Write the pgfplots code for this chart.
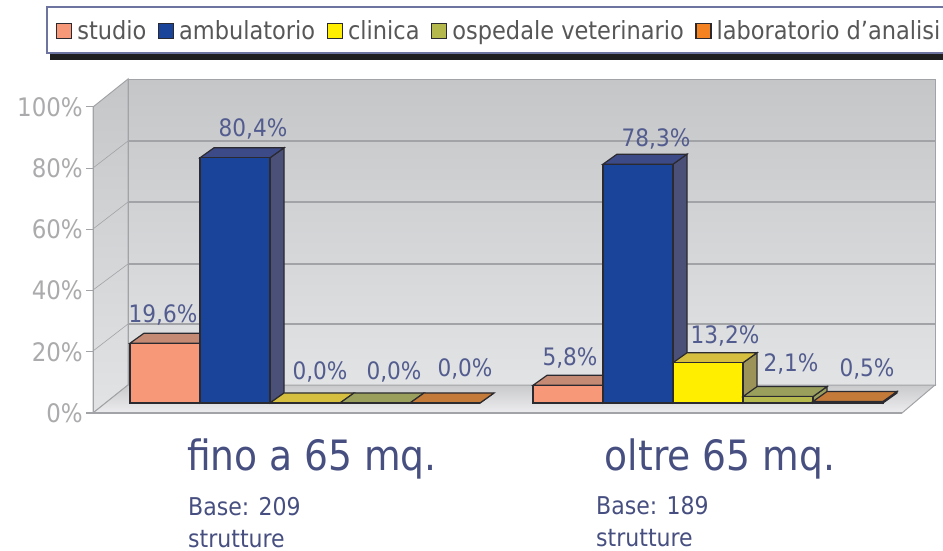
\documentclass[border=0pt]{standalone}
\usepackage{pgfplots}
\pgfplotsset{compat=1.18}
\usepackage{fontspec}
\setmainfont{DejaVu Sans Condensed}
\definecolor{txtblue}{HTML}{464F80}
\definecolor{lblblue}{HTML}{525C8E}
\definecolor{ticktxt}{HTML}{ABABAD}
\definecolor{gridc}{HTML}{A2A3A6}
\definecolor{edge}{HTML}{2A2A30}
\definecolor{wallT}{HTML}{C5C6C8}
\definecolor{wallB}{HTML}{E2E3E5}
\definecolor{floorT}{HTML}{C9CACC}
\definecolor{floorB}{HTML}{EDEDEF}
\definecolor{stF}{HTML}{F79878}\definecolor{stT}{HTML}{C58A73}\definecolor{stS}{HTML}{A0705C}
\definecolor{amF}{HTML}{1A4499}\definecolor{amT}{HTML}{3D4A88}\definecolor{amS}{HTML}{4B5078}
\definecolor{clF}{HTML}{FFEE00}\definecolor{clT}{HTML}{D6BF3E}\definecolor{clS}{HTML}{9C9358}
\definecolor{osF}{HTML}{B5B84C}\definecolor{osT}{HTML}{9AA05C}\definecolor{osS}{HTML}{9AA05C}
\definecolor{laF}{HTML}{F58220}\definecolor{laT}{HTML}{C47A38}\definecolor{laS}{HTML}{A0662E}
\newcommand{\barfaces}[4]{%
  \pgfmathsetmacro\xb{#1+14}\pgfmathsetmacro\xc{#1+70}\pgfmathsetmacro\xd{#1+84}\pgfmathsetmacro\vb{#2+3.28}%
  \addplot[forget plot,fill=#4,draw=edge,line width=1.2pt] coordinates {(\xc,0)(\xd,3.28)(\xd,\vb)(\xc,#2)} --cycle;
  \addplot[forget plot,fill=#3,draw=edge,line width=1.2pt] coordinates {(#1,#2)(\xb,\vb)(\xd,\vb)(\xc,#2)} --cycle;
}
\pgfplotsset{facebar/.style={ybar,bar width=70pt,bar shift=0pt,draw=edge,line width=1.3pt}}
\begin{document}
\begin{tikzpicture}[x=1pt,y=1pt]
\path[use as bounding box] (0,0) rectangle (943,550);
% --- walls, floor, legend frame (pixel coordinates)
\begin{axis}[at={(0,0)},anchor=south west,scale only axis,width=943pt,height=550pt,
  xmin=0,xmax=943,ymin=0,ymax=550,y dir=reverse,hide axis,clip=false]
\addplot[draw=none,fill=black!88] coordinates {(50,53)(960,53)(960,60)(50,60)} --cycle;
\addplot[draw=lblblue!85,line width=1.5pt,fill=white] coordinates {(47,7)(960,7)(960,53)(47,53)} --cycle;
\addplot[draw=gridc,line width=1pt,top color=wallT,bottom color=wallB] coordinates {(93,107)(128,79)(128,385)(93,413)} --cycle;
\addplot[draw=gridc,line width=1pt,top color=wallT,bottom color=wallB] coordinates {(128,79)(935,79)(935,385)(128,385)} --cycle;
\addplot[draw=gridc,line width=1pt,top color=floorT,bottom color=floorB] coordinates {(128,385)(935,385)(902,413)(93,413)} --cycle;
\addplot[gridc,line width=1.2pt] coordinates {(128,141)(935,141)};
\addplot[gridc,line width=1.2pt] coordinates {(128,202)(935,202)};
\addplot[gridc,line width=1.2pt] coordinates {(128,264)(935,264)};
\addplot[gridc,line width=1.2pt] coordinates {(128,324)(935,324)};
\addplot[gridc,line width=.6pt] coordinates {(93,168)(128,141)};
\addplot[gridc,line width=.6pt] coordinates {(93,229)(128,202)};
\addplot[gridc,line width=.6pt] coordinates {(93,290)(128,264)};
\addplot[gridc,line width=.6pt] coordinates {(93,351)(128,324)};
\addplot[gridc,line width=2pt] coordinates {(86,413)(902,413)};
\end{axis}
% --- value axis with its ticks
\begin{axis}[at={(93pt,137pt)},anchor=south west,scale only axis,width=809pt,height=306pt,
  xmin=0,xmax=1,ymin=0,ymax=100,axis lines=left,axis line style={-,draw=gridc,line width=1pt},
  xtick=\empty,ytick={0,20,40,60,80,100},tick style={draw=gridc,line width=1pt},
  tick align=outside,major tick length=7pt,
  yticklabel={\pgfmathprintnumber{\tick}\%},
  /pgf/number format/assume math mode=true,
  yticklabel style={font=\fontsize{25.5}{25.5}\selectfont,text=ticktxt,inner sep=0pt,xshift=-3pt}]
\addplot[draw=none,forget plot] coordinates {(0,0)(1,100)};
\end{axis}
% --- bars
\begin{axis}[at={(0,0)},anchor=south west,scale only axis,width=943pt,height=550pt,
  xmin=0,xmax=943,ymin=-48.197,ymax=132.131,clip=false,
  axis line style={draw=none},ytick=\empty,tick style={draw=none},
  xtick={312,720},xticklabels={fino a 65 mq.,oltre 65 mq.},xtick pos=bottom,
  xticklabel style={font=\fontsize{41.8}{41.8}\selectfont,text=txtblue,anchor=center,yshift=91pt},
  legend columns=5,
  legend cell align=left,
  legend style={at={(56pt,519pt)},anchor=west,draw=none,fill=none,inner sep=0pt,outer sep=0pt,
    font=\fontsize{25}{25}\selectfont,text=black!66,
    /tikz/every even column/.append style={column sep=11.5pt},
    /tikz/every odd column/.append style={column sep=5pt},
    nodes={inner sep=0pt}},
  legend image code/.code={\draw[#1,line width=1.3pt,draw=edge] (0pt,-7.5pt) rectangle (15pt,7.5pt);}]
\barfaces{130}{19.6}{stT}{stS}
\barfaces{533}{5.8}{stT}{stS}
\addplot[facebar,fill=stF] coordinates {(165,19.6)(568,5.8)};
\addlegendentry{studio}
\barfaces{200}{80.4}{amT}{amS}
\barfaces{603}{78.3}{amT}{amS}
\addplot[facebar,fill=amF] coordinates {(235,80.4)(638,78.3)};
\addlegendentry{ambulatorio}
\barfaces{270}{0}{clT}{clS}
\barfaces{673}{13.2}{clT}{clS}
\addplot[facebar,fill=clF] coordinates {(305,0)(708,13.2)};
\addlegendentry{clinica}
\barfaces{340}{0}{osT}{osS}
\barfaces{743}{2.1}{osT}{osS}
\addplot[facebar,fill=osF] coordinates {(375,0)(778,2.1)};
\addlegendentry{ospedale veterinario}
\barfaces{410}{0}{laT}{laS}
\barfaces{813}{0.5}{laT}{laS}
\addplot[facebar,fill=laF] coordinates {(445,0)(848,0.5)};
\addlegendentry{laboratorio d'analisi}
% value labels
\addplot[forget plot,draw=none,mark=none,point meta=y,
  visualization depends on={\thisrow{dx}\as\dx},
  visualization depends on={\thisrow{dy}\as\dy},
  nodes near coords={\pgfmathprintnumber[fixed,fixed zerofill,precision=1,use comma,assume math mode=true]{\pgfplotspointmeta}\%},
  every node near coord/.append style={anchor=center,xshift=\dx pt,yshift=\dy pt,
    font=\fontsize{24}{24}\selectfont,text=lblblue,inner sep=0pt}]
  table {
x y dx dy
165 19.6 -2 28
235 80.4 18 29
305 0 15 31
375 0 19 31
445 0 20 34
568 5.8 2 27
638 78.3 18 25
708 13.2 17 27
778 2.1 13 33
848 0.5 19 32
};
\node[anchor=north west,align=left,font=\fontsize{24.5}{32}\selectfont,text=txtblue,inner sep=0pt]
  at (axis cs:188,-30.9) {Base: 209\\strutture};
\node[anchor=north west,align=left,font=\fontsize{24.5}{32}\selectfont,text=txtblue,inner sep=0pt]
  at (axis cs:596,-30.4) {Base: 189\\strutture};
\end{axis}
\end{tikzpicture}
\end{document}
